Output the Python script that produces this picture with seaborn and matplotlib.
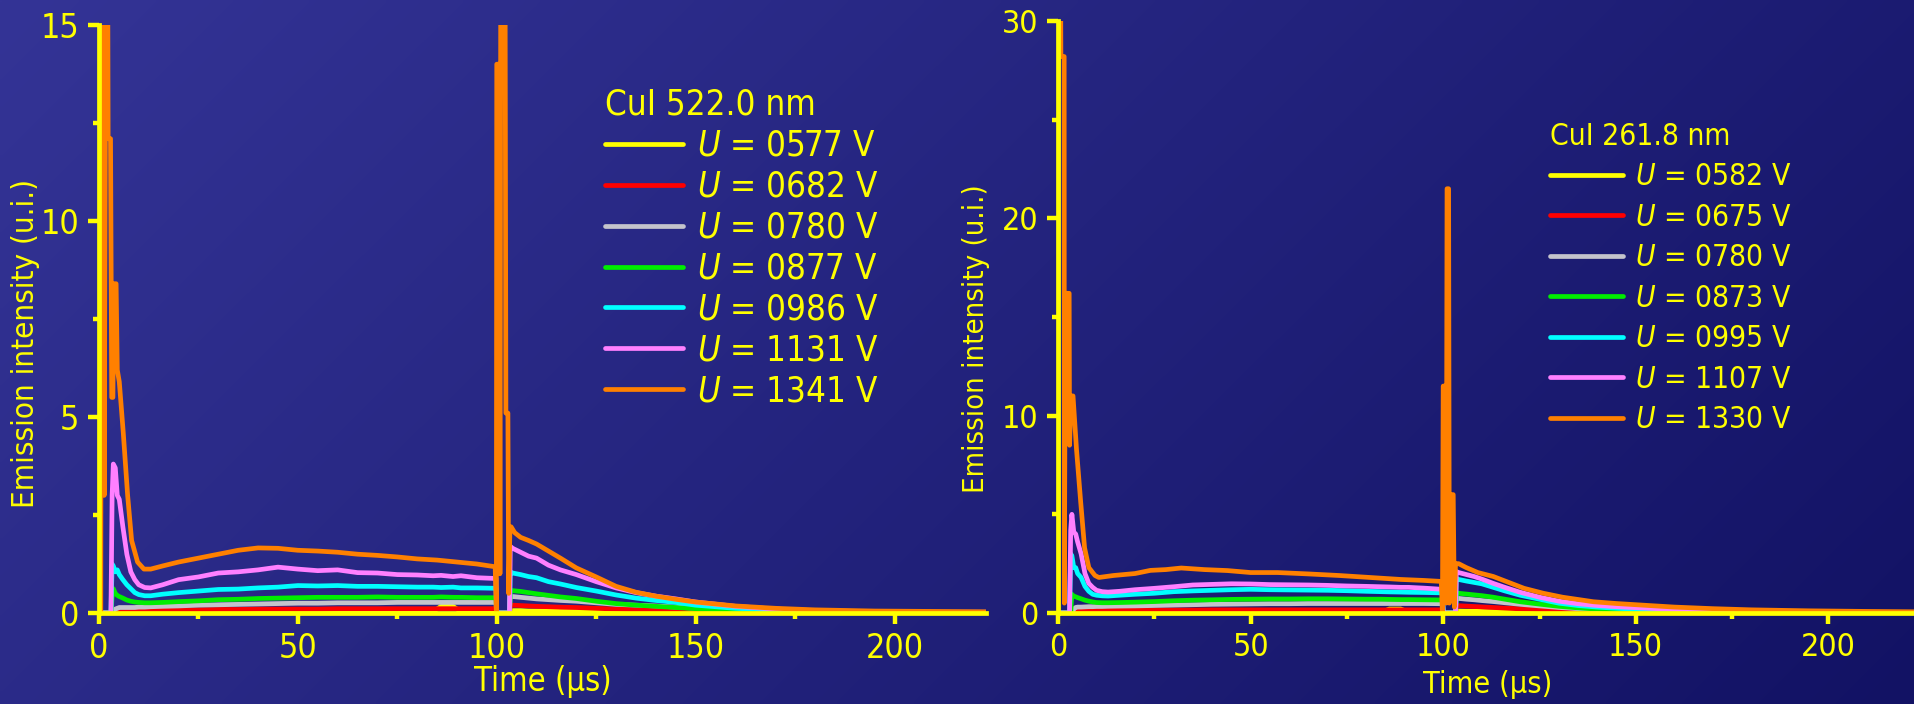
import numpy as np
import matplotlib
matplotlib.use("Agg")
import matplotlib.pyplot as plt
import seaborn as sns

sns.set_theme(style="ticks")
plt.rcParams["font.family"] = ["DejaVu Sans"]
plt.rcParams["font.stretch"] = "condensed"
plt.rcParams["mathtext.fontset"] = "dejavusans"

# ---------------------------------------------------------------------------
# Time base (µs) shared by the low-voltage traces of both panels
time_us = [
    0, 3.0, 3.3, 3.6, 4.1, 4.6, 5.1,
    6, 7, 8, 9, 10,
    11.5, 13, 16, 20,
    25, 30, 35, 40, 45, 50, 55, 60, 65, 70, 75, 80,
    84, 86, 89, 91, 95,
    99.8, 100.0, 103.2, 103.4,
    104, 106, 108, 110, 113, 116, 120,
    125, 130, 135, 140, 145, 150,
    160, 170, 180, 195, 210, 223,
]

# --- CuI 522.0 nm -----------------------------------------------------------
cu522_0577 = [
    0, 0, 0, 0, 0, 0, 0.01,
    0.01, 0.01, 0.01, 0.01, 0.02,
    0.02, 0.02, 0.02, 0.02,
    0.02, 0.02, 0.03, 0.03, 0.03, 0.03, 0.03, 0.03, 0.03, 0.03, 0.03, 0.03,
    0.03, 0.17, 0.17, 0.03, 0.03,
    0.03, 0, 0, 0.06,
    0.06, 0.06, 0.05, 0.05, 0.05, 0.04, 0.04,
    0.03, 0.03, 0.02, 0.02, 0.02, 0.01,
    0.01, 0.01, 0, 0, 0, 0,
]
cu522_0682 = [
    0, 0, 0, 0, 0, 0, 0.02,
    0.03, 0.04, 0.05, 0.05, 0.06,
    0.06, 0.07, 0.07, 0.08,
    0.08, 0.09, 0.09, 0.1, 0.1, 0.1, 0.1, 0.11, 0.11, 0.11, 0.11, 0.11,
    0.11, 0.11, 0.11, 0.11, 0.11,
    0.11, 0, 0, 0.2,
    0.2, 0.19, 0.18, 0.17, 0.16, 0.15, 0.14,
    0.12, 0.1, 0.08, 0.07, 0.05, 0.04,
    0.03, 0.02, 0.01, 0.01, 0, 0,
]
cu522_0780 = [
    0, 0, 0, 0.05, 0.1, 0.12, 0.14,
    0.14, 0.14, 0.14, 0.14, 0.15,
    0.15, 0.16, 0.17, 0.18,
    0.2, 0.21, 0.22, 0.23, 0.24, 0.25, 0.25, 0.26, 0.26, 0.26, 0.27, 0.27,
    0.27, 0.27, 0.27, 0.27, 0.27,
    0.27, 0, 0, 0.42,
    0.42, 0.4, 0.38, 0.36, 0.34, 0.32, 0.3,
    0.26, 0.22, 0.2, 0.18, 0.15, 0.12,
    0.07, 0.04, 0.02, 0.01, 0.01, 0.01,
]
cu522_0877 = [
    0, 0, 0.4, 0.62, 0.5, 0.45, 0.42,
    0.38, 0.33, 0.3, 0.28, 0.27,
    0.26, 0.26, 0.27, 0.29,
    0.31, 0.34, 0.35, 0.37, 0.38, 0.39, 0.4, 0.4, 0.4, 0.41, 0.4, 0.4,
    0.4, 0.41, 0.4, 0.4, 0.39,
    0.39, 0, 0, 0.58,
    0.57, 0.55, 0.52, 0.49, 0.45, 0.41, 0.37,
    0.3, 0.24, 0.2, 0.17, 0.14, 0.11,
    0.06, 0.04, 0.02, 0.01, 0.01, 0.01,
]
cu522_0986 = [
    0, 0, 1.25, 1.2, 1.05, 1.1, 0.98,
    0.85, 0.72, 0.62, 0.52, 0.47,
    0.44, 0.44, 0.48, 0.52,
    0.56, 0.6, 0.61, 0.64, 0.66, 0.7, 0.69, 0.7, 0.68, 0.68, 0.67, 0.66,
    0.66, 0.65, 0.66, 0.64, 0.64,
    0.63, 0, 0, 1.05,
    1.02, 0.98, 0.93, 0.9, 0.8, 0.74, 0.65,
    0.56, 0.46, 0.38, 0.32, 0.27, 0.2,
    0.12, 0.07, 0.04, 0.02, 0.01, 0.01,
]
cu522_1131 = [
    0, 0, 3.0, 3.8, 3.7, 3.0, 2.9,
    2.2, 1.5, 1.05, 0.85, 0.72,
    0.65, 0.64, 0.72, 0.85,
    0.92, 1.02, 1.05, 1.1, 1.17, 1.12, 1.08, 1.1, 1.03, 1.02, 0.98, 0.97,
    0.95, 0.96, 0.93, 0.95, 0.9,
    0.88, 0, 0, 1.7,
    1.65, 1.55, 1.45, 1.4, 1.22, 1.1, 0.98,
    0.8, 0.64, 0.52, 0.43, 0.36, 0.28,
    0.17, 0.1, 0.06, 0.03, 0.02, 0.02,
]
time_522_1341 = [
    0, 0.45, 0.55, 1.0, 1.3, 1.7, 2.2, 2.3, 2.9, 3.2,
    3.5, 3.7, 4.3, 4.6, 5.1, 6.1, 7.2, 8.2, 9.7, 11.3,
    13, 16, 20, 25, 30, 35, 40, 45, 50, 55,
    60, 65, 70, 75, 80, 85, 90, 95, 99.6, 99.9,
    100.0, 100.6, 100.8, 101.0, 102.1, 102.3, 102.8, 103.0, 103.3, 103.6,
    104.5, 106, 108, 110, 113, 116, 120, 125, 130, 135,
    140, 145, 150, 160, 170, 180, 195, 210, 223,
]
cu522_1341 = [
    0, 0, 16, 16, 3, 16, 16, 12.1, 12.1, 5.5,
    5.5, 8.4, 8.4, 6.2, 5.9, 4.6, 3.0, 1.85, 1.3, 1.12,
    1.12, 1.2, 1.3, 1.4, 1.5, 1.6, 1.66, 1.65, 1.6, 1.58,
    1.55, 1.5, 1.47, 1.43, 1.38, 1.35, 1.3, 1.25, 1.18, 0,
    14.0, 14.0, 1.0, 16, 16, 5.1, 5.1, 0.5, 2.1, 2.2,
    2.05, 1.93, 1.85, 1.76, 1.58, 1.4, 1.15, 0.92, 0.68, 0.53,
    0.43, 0.35, 0.28, 0.18, 0.12, 0.08, 0.05, 0.04, 0.03,
]

# --- CuI 261.8 nm -----------------------------------------------------------
cu262_0582 = [
    0, 0, 0, 0, 0, 0, 0.02,
    0.02, 0.02, 0.02, 0.02, 0.03,
    0.03, 0.03, 0.03, 0.03,
    0.03, 0.04, 0.04, 0.04, 0.04, 0.04, 0.04, 0.04, 0.04, 0.04, 0.04, 0.04,
    0.04, 0.2, 0.2, 0.04, 0.04,
    0.04, 0, 0, 0.1,
    0.1, 0.09, 0.09, 0.08, 0.07, 0.06, 0.05,
    0.04, 0.03, 0.02, 0.02, 0.01, 0.01,
    0.01, 0, 0, 0, 0, 0,
]
cu262_0675 = [
    0, 0, 0, 0, 0, 0, 0.08,
    0.1, 0.11, 0.12, 0.12, 0.13,
    0.13, 0.13, 0.14, 0.14,
    0.15, 0.15, 0.15, 0.16, 0.16, 0.16, 0.16, 0.16, 0.16, 0.16, 0.16, 0.16,
    0.16, 0.16, 0.16, 0.16, 0.16,
    0.16, 0, 0, 0.38,
    0.37, 0.35, 0.33, 0.31, 0.28, 0.25, 0.21,
    0.17, 0.13, 0.1, 0.08, 0.06, 0.05,
    0.03, 0.02, 0.01, 0.01, 0, 0,
]
cu262_0780 = [
    0, 0, 0, 0, 0.2, 0.28, 0.3,
    0.3, 0.31, 0.32, 0.32, 0.33,
    0.33, 0.34, 0.35, 0.36,
    0.38, 0.4, 0.42, 0.44, 0.45, 0.46, 0.47, 0.47, 0.48, 0.48, 0.48, 0.48,
    0.48, 0.48, 0.48, 0.48, 0.48,
    0.47, 0, 0, 0.75,
    0.74, 0.7, 0.67, 0.63, 0.58, 0.52, 0.44,
    0.36, 0.28, 0.22, 0.17, 0.13, 0.1,
    0.06, 0.03, 0.02, 0.01, 0, 0,
]
cu262_0873 = [
    0, 0, 0, 0.95, 0.85, 0.82, 0.78,
    0.72, 0.65, 0.6, 0.56, 0.53,
    0.52, 0.52, 0.53, 0.55,
    0.58, 0.62, 0.65, 0.67, 0.69, 0.7, 0.71, 0.71, 0.72, 0.72, 0.71, 0.7,
    0.7, 0.69, 0.68, 0.68, 0.67,
    0.66, 0, 0, 1.02,
    1.0, 0.96, 0.92, 0.88, 0.8, 0.7, 0.57,
    0.45, 0.34, 0.26, 0.2, 0.15, 0.11,
    0.06, 0.04, 0.02, 0.01, 0.01, 0,
]
cu262_0995 = [
    0, 0, 3.0, 2.9, 2.3, 2.3, 2.0,
    1.8, 1.35, 1.1, 0.95, 0.9,
    0.87, 0.86, 0.9, 0.95,
    1.0, 1.08, 1.12, 1.15, 1.18, 1.2, 1.18, 1.17, 1.16, 1.15, 1.13, 1.1,
    1.08, 1.07, 1.06, 1.05, 1.04,
    1.02, 0, 0, 1.75,
    1.7, 1.62, 1.55, 1.48, 1.3, 1.12, 0.9,
    0.7, 0.5, 0.38, 0.3, 0.24, 0.19,
    0.11, 0.07, 0.04, 0.02, 0.01, 0.01,
]
cu262_1107 = [
    0, 0, 4.2, 5.0, 4.1, 4.0, 3.6,
    3.0, 2.0, 1.5, 1.3, 1.15,
    1.08, 1.06, 1.1, 1.18,
    1.25, 1.33, 1.42, 1.45, 1.48, 1.47, 1.44, 1.43, 1.42, 1.4, 1.37, 1.35,
    1.33, 1.32, 1.3, 1.3, 1.26,
    1.2, 0, 0, 2.1,
    2.05, 1.95, 1.85, 1.72, 1.5, 1.3, 1.05,
    0.8, 0.6, 0.47, 0.38, 0.32, 0.27,
    0.18, 0.12, 0.08, 0.04, 0.02, 0.01,
]
time_262_1330 = [
    0, 0.1, 0.7, 0.75, 1.6, 1.65, 1.9, 2.9, 3.0, 3.4,
    3.9, 4.8, 5.9, 6.9, 8.0, 9.6, 10.6, 14.4, 20, 24,
    28, 32, 38, 44, 50, 57, 65, 73, 81, 89,
    95, 99.5, 99.8, 100.0, 100.6, 100.8, 101.0, 101.4, 101.6, 102.2,
    102.6, 102.9, 103.2, 104, 106, 109, 113, 117, 121, 126,
    131, 139, 145, 150, 160, 170, 180, 195, 210, 223,
]
cu262_1330 = [
    0, 30.5, 30.5, 28.2, 28.2, 0.5, 16.2, 16.2, 8.5, 11,
    11, 8.3, 5.6, 3.3, 2.3, 1.9, 1.8, 1.9, 2.0, 2.16,
    2.2, 2.28, 2.2, 2.15, 2.05, 2.05, 1.98, 1.9, 1.8, 1.7,
    1.65, 1.6, 0, 11.5, 11.5, 0.5, 21.5, 21.5, 0.5, 6.0,
    6.0, 0.3, 2.5, 2.5, 2.3, 2.05, 1.85, 1.55, 1.25, 1.0,
    0.8, 0.57, 0.48, 0.42, 0.3, 0.22, 0.16, 0.11, 0.08, 0.06,
]

voltages_522 = ["0577", "0682", "0780", "0877", "0986", "1131", "1341"]
voltages_262 = ["0582", "0675", "0780", "0873", "0995", "1107", "1330"]
trace_colors = ["#FFFF00", "#FF0000", "#C4C4CC", "#00EE00", "#00FFFF", "#FF80FF", "#FF8000"]
YELLOW = "#FFFF00"

# ---------------------------------------------------------------------------
W, H = 1915, 704
fig = plt.figure(figsize=(W / 100, H / 100), dpi=100)

# diagonal blue gradient behind both panels
bg = fig.add_axes([0, 0, 1, 1], zorder=-10)
gx, gy = np.meshgrid(np.linspace(0, 1, 480), np.linspace(0, 1, 180))
s = (gx * W + gy * H) / (W + H)
c0 = np.array([52, 52, 150]) / 255
c1 = np.array([18, 18, 100]) / 255
bg.imshow(c0 + (c1 - c0) * s[..., None], aspect="auto", extent=[0, 1, 0, 1],
          origin="upper", interpolation="bilinear")
bg.set_axis_off()


def px_axes(x0, x1, y_top, y_bot):
    return fig.add_axes([x0 / W, (H - y_bot) / H, (x1 - x0) / W, (y_bot - y_top) / H])


def draw_panel(ax, t_base, low_traces, t_top, top_trace, volts, ymax, ymajor, yminor,
               title, tick_fs, legend_fs, xlabel_fs, ylabel_fs, legend_anchor, handlelen,
               labelspacing, xlabel_xy, ylabel_xy):
    labels = [rf"$U$ = {v} V" for v in volts]
    for vals, lab, col in zip(low_traces, labels[:-1], trace_colors[:-1]):
        sns.lineplot(x=t_base, y=vals, ax=ax, color=col, lw=3.4, label=lab,
                     estimator=None, sort=False)
    sns.lineplot(x=t_top, y=top_trace, ax=ax, color=trace_colors[-1], lw=3.4,
                 label=labels[-1], estimator=None, sort=False)

    ax.set_facecolor("none")
    ax.set_xlim(0, 223)
    ax.set_ylim(0, ymax)
    for side in ("top", "right"):
        ax.spines[side].set_visible(False)
    for side in ("left", "bottom"):
        ax.spines[side].set_color(YELLOW)
        ax.spines[side].set_linewidth(3.4)
        ax.spines[side].set_capstyle("projecting")
    ax.set_xticks([0, 50, 100, 150, 200])
    ax.set_xticks([25, 75, 125, 175], minor=True)
    ax.set_yticks(ymajor)
    ax.set_yticks(yminor, minor=True)
    ax.tick_params(which="major", direction="out", length=8, width=3.2, color=YELLOW,
                   labelcolor=YELLOW, labelsize=tick_fs, pad=6)
    ax.tick_params(which="minor", direction="out", length=4.5, width=3.2, color=YELLOW)
    ax.grid(False)

    ax.set_xlabel("Time (\u03bcs)", color=YELLOW, fontsize=xlabel_fs)
    ax.xaxis.set_label_coords(*xlabel_xy)
    ax.set_ylabel("Emission intensity (u.i.)", color=YELLOW, fontsize=ylabel_fs)
    ax.yaxis.set_label_coords(*ylabel_xy)

    leg = ax.legend(title=title, loc="upper left", bbox_to_anchor=legend_anchor,
                    frameon=False, fontsize=legend_fs, title_fontsize=legend_fs,
                    handlelength=handlelen, handletextpad=0.4, labelspacing=labelspacing,
                    borderpad=0, borderaxespad=0, alignment="left")
    leg.get_title().set_color(YELLOW)
    for txt in leg.get_texts():
        txt.set_color(YELLOW)
    for line in leg.get_lines():
        line.set_linewidth(3.4)


ax1 = px_axes(99, 986, 25, 613)
draw_panel(ax1, time_us,
           [cu522_0577, cu522_0682, cu522_0780, cu522_0877, cu522_0986, cu522_1131],
           time_522_1341, cu522_1341, voltages_522,
           15, [0, 5, 10, 15], [2.5, 7.5, 12.5], "CuI 522.0 nm",
           tick_fs=24.5, legend_fs=25, xlabel_fs=23.5, ylabel_fs=22.5,
           legend_anchor=(0.570, 0.893), handlelen=2.25, labelspacing=0.2,
           xlabel_xy=(0.5, -0.088), ylabel_xy=(-0.066, 0.458))

ax2 = px_axes(1058, 1917, 21, 613)
draw_panel(ax2, time_us,
           [cu262_0582, cu262_0675, cu262_0780, cu262_0873, cu262_0995, cu262_1107],
           time_262_1330, cu262_1330, voltages_262,
           30, [0, 10, 20, 30], [5, 15, 25], "CuI 261.8 nm",
           tick_fs=23, legend_fs=21.5, xlabel_fs=22, ylabel_fs=21,
           legend_anchor=(0.573, 0.830), handlelen=2.45, labelspacing=0.385,
           xlabel_xy=(0.5, -0.096), ylabel_xy=(-0.079, 0.463))

fig.savefig("out.png", dpi=100)
